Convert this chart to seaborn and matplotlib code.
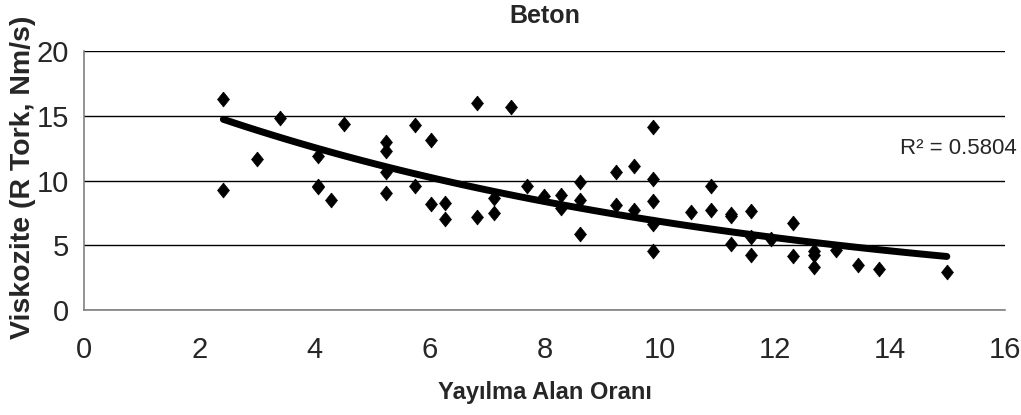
import numpy as np
import pandas as pd
import matplotlib
matplotlib.use("Agg")
import matplotlib.pyplot as plt
import seaborn as sns

# spread ratio vs viscosity readings
x_vals = [2.42, 2.42, 3.00, 3.40, 4.06, 4.06, 4.06, 4.29, 4.52, 5.24,
          5.24, 5.24, 5.24, 5.75, 5.75, 6.02, 6.02, 6.28, 6.28, 6.83,
          6.83, 7.12, 7.12, 7.41, 7.70, 8.00, 8.29, 8.29, 8.61, 8.61,
          8.61, 9.24, 9.24, 9.56, 9.56, 9.88, 9.88, 9.88, 9.88, 9.88,
          10.55, 10.90, 10.90, 11.24, 11.24, 11.24, 11.58, 11.58, 11.58, 11.94,
          12.31, 12.31, 12.68, 12.68, 12.68, 13.06, 13.44, 13.82, 14.99]
y_vals = [16.28, 9.23, 11.67, 14.80, 11.87, 9.60, 9.50, 8.46, 14.36, 12.95,
          12.26, 10.64, 9.03, 14.28, 9.56, 13.13, 8.20, 8.28, 7.05, 15.95,
          7.18, 8.67, 7.51, 15.64, 9.54, 8.77, 8.90, 7.87, 9.92, 8.46,
          5.90, 10.69, 8.08, 11.10, 7.74, 14.15, 10.13, 8.41, 6.67, 4.56,
          7.56, 9.56, 7.69, 7.44, 7.23, 5.08, 7.64, 5.64, 4.23, 5.46,
          6.72, 4.18, 4.56, 4.23, 3.33, 4.62, 3.46, 3.20, 2.90]

x_ticks = [0, 2, 4, 6, 8, 10, 12, 14, 16]
y_ticks = [0, 5, 10, 15, 20]
r2_label = "R² = 0.5804"

df = pd.DataFrame({"oran": x_vals, "visk": y_vals})

# exponential trend like excel: fit ln(y) linearly
b, ln_a = np.polyfit(df["oran"], np.log(df["visk"]), 1)
xs = np.linspace(df["oran"].min(), df["oran"].max(), 100)
trend = pd.DataFrame({"oran": xs, "visk": np.exp(ln_a) * np.exp(b * xs)})

sns.set_style("white")
plt.rcParams["font.family"] = ["Liberation Sans", "DejaVu Sans"]

diamond = [(0, 1), (0.8, 0), (0, -1), (-0.8, 0), (0, 1)]

fig = plt.figure(figsize=(10.21, 4.15), dpi=100)
ax = fig.add_axes([0.0823, 0.253, 0.9020, 0.624])

sns.scatterplot(data=df, x="oran", y="visk", marker=diamond, s=115,
                color="black", edgecolor="black", linewidth=0.5, ax=ax, zorder=3)
sns.lineplot(data=trend, x="oran", y="visk", color="black", linewidth=5,
             solid_capstyle="round", ax=ax, zorder=4)

ax.set_xlim(0, 16)
ax.set_ylim(0, 20)
ax.set_xticks(x_ticks)
ax.set_yticks(y_ticks)
ax.tick_params(axis="both", direction="out", length=7, width=1, color="#808080",
               labelsize=21)
ax.tick_params(axis="x", pad=12)
ax.tick_params(axis="y", pad=4)
ax.yaxis.grid(True, color="black", linewidth=1)
ax.xaxis.grid(False)
ax.set_axisbelow(True)
for side in ["top", "right"]:
    ax.spines[side].set_visible(False)
for side in ["left", "bottom"]:
    ax.spines[side].set_color("#808080")
    ax.spines[side].set_linewidth(1.2)

ax.set_title("Beton", fontsize=18, fontweight="bold", pad=20)
ax.set_xlabel("Yayılma Alan Oranı", fontsize=17, fontweight="bold", labelpad=12)
ax.set_ylabel("Viskozite (R Tork, Nm/s)", fontsize=20.5, fontweight="bold")
ax.yaxis.set_label_coords(-0.052, 0.513)

ax.text(14.17, 12.46, r2_label, fontsize=16, va="center", ha="left")

fig.savefig("out.png", dpi=100)
